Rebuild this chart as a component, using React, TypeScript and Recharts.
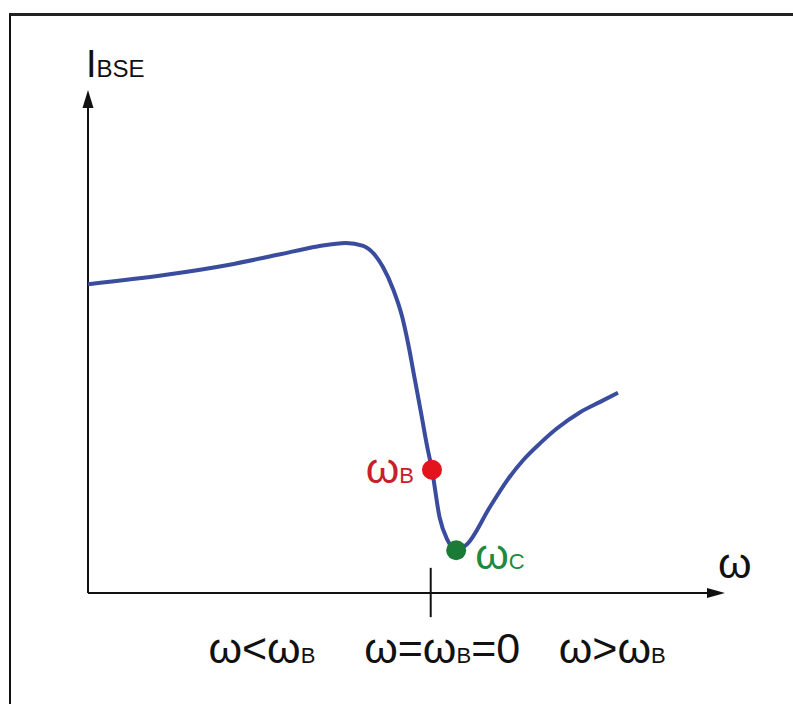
import React from 'react';
import { ComposedChart, Line, XAxis, YAxis, ReferenceLine, ReferenceDot } from 'recharts';

// Curve I_BSE(ω) sampled along the sketch (arbitrary units 0–100)
const curveX = [0, 12.0, 22.0, 30.0, 36.0, 40.5, 43.2, 46.3, 47.9, 49.3, 50.3, 51.3, 52.4, 53.2, 54.0, 55.2, 56.4, 57.8, 59.5, 63.1, 65.8, 68.3, 71.0, 73.6, 77.2, 80.4, 83.2];
const curveY = [61.4, 63.2, 65.2, 67.3, 68.9, 69.6, 69.0, 64.8, 60.4, 55.0, 49.3, 42.5, 35.0, 29.4, 24.5, 15.0, 10.6, 8.5, 9.7, 17.1, 22.4, 26.4, 29.8, 32.7, 35.9, 38.0, 39.8];

// Marked points
const pointB = { x: 54.0, y: 24.5 };
const pointC = { x: 57.8, y: 8.5 };

// ω = ωB = 0 tick position
const zeroTick = 53.8;

// Region labels below the axis
const regionTicks = [27.3, 55.6, 82.3];
const regionMain = ['ω<ω', 'ω=ω', 'ω>ω'];
const regionSub = ['B', 'B', 'B'];
const regionTail = ['', '=0', ''];

const data = curveX.map((x, i) => ({ x, y: curveY[i] }));

const FONT = '"Liberation Sans", Arial, sans-serif';
const BIG = 43;
const SUB = 22;

const RegionTick = (props: any) => {
  const { x, y, payload } = props;
  const i = regionTicks.indexOf(payload.value);
  if (i < 0) return null;
  return (
    <text x={x} y={y + 70} textAnchor="middle" fontFamily={FONT} fill="#111">
      <tspan fontSize={BIG}>{regionMain[i]}</tspan>
      <tspan fontSize={SUB}>{regionSub[i]}</tspan>
      {regionTail[i] ? <tspan fontSize={BIG}>{regionTail[i]}</tspan> : null}
    </text>
  );
};

const XArrow = (props: any) => {
  const { cx, cy } = props;
  return (
    <g>
      <polygon points={`${cx},${cy} ${cx - 18},${cy - 5} ${cx - 18},${cy + 5}`} fill="#111" />
      <text x={cx - 7} y={cy - 15} fontFamily={FONT} fontSize={BIG} fill="#111">ω</text>
    </g>
  );
};

const YArrow = (props: any) => {
  const { cx, cy } = props;
  return (
    <g>
      <polygon points={`${cx},${cy} ${cx - 5.5},${cy + 18} ${cx + 5.5},${cy + 18}`} fill="#111" />
      <text x={cx - 2} y={cy - 13} fontFamily={FONT} fill="#111">
        <tspan fontSize={38}>I</tspan>
        <tspan fontSize={24}>BSE</tspan>
      </text>
    </g>
  );
};

const DotB = (props: any) => {
  const { cx, cy } = props;
  return (
    <g>
      <circle cx={cx} cy={cy} r={10} fill="#e3141c" />
      <text x={cx - 18} y={cy + 13} textAnchor="end" fontFamily={FONT} fill="#c8202a">
        <tspan fontSize={BIG}>ω</tspan>
        <tspan fontSize={SUB}>B</tspan>
      </text>
    </g>
  );
};

const DotC = (props: any) => {
  const { cx, cy } = props;
  return (
    <g>
      <circle cx={cx} cy={cy} r={10} fill="#1b7a35" />
      <text x={cx + 19} y={cy + 19} fontFamily={FONT} fill="#1f8a3e">
        <tspan fontSize={BIG}>ω</tspan>
        <tspan fontSize={SUB}>C</tspan>
      </text>
    </g>
  );
};

export default function App() {
  return (
    <div style={{ position: 'absolute', left: 0, top: 0, width: 793, height: 704, background: '#fff', overflow: 'hidden' }}>
      <div
        style={{
          position: 'absolute',
          left: 9,
          top: 13,
          width: 900,
          height: 900,
          borderLeft: '2px solid #111',
          borderTop: '3px solid #222',
          boxSizing: 'border-box',
        }}
      />
      <div style={{ position: 'absolute', left: 0, top: 0 }}>
        <ComposedChart width={793} height={704} data={data} margin={{ top: 90, right: 68, bottom: 51, left: 88 }}>
          <XAxis
            type="number"
            dataKey="x"
            domain={[0, 100]}
            ticks={regionTicks}
            tick={<RegionTick />}
            axisLine={false}
            tickLine={false}
            tickSize={0}
            tickMargin={0}
            height={60}
            interval={0}
          />
          <YAxis type="number" domain={[0, 100]} hide width={0} />
          <ReferenceLine segment={[{ x: 0, y: 0 }, { x: 98, y: 0 }]} stroke="#111" strokeWidth={2} ifOverflow="visible" />
          <ReferenceLine segment={[{ x: 0, y: 0 }, { x: 0, y: 97 }]} stroke="#111" strokeWidth={2} ifOverflow="visible" />
          <ReferenceLine segment={[{ x: zeroTick, y: 5 }, { x: zeroTick, y: -4.8 }]} stroke="#111" strokeWidth={2} ifOverflow="visible" />
          <ReferenceDot x={100} y={0} r={0} ifOverflow="visible" shape={<XArrow />} />
          <ReferenceDot x={0} y={100} r={0} ifOverflow="visible" shape={<YArrow />} />
          <Line
            type="monotone"
            dataKey="y"
            stroke="#3a4c9e"
            strokeWidth={4}
            dot={false}
            activeDot={false}
            isAnimationActive={false}
          />
          <ReferenceDot x={pointB.x} y={pointB.y} r={10} ifOverflow="visible" shape={<DotB />} />
          <ReferenceDot x={pointC.x} y={pointC.y} r={10} ifOverflow="visible" shape={<DotC />} />
        </ComposedChart>
      </div>
    </div>
  );
}
